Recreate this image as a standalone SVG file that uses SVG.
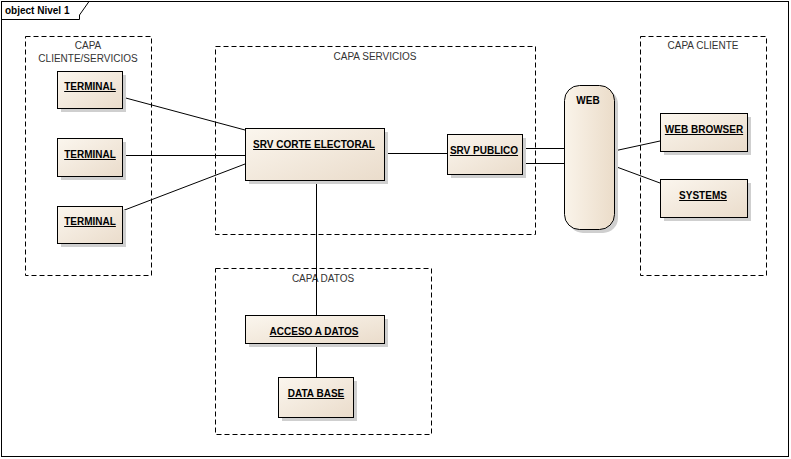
<svg xmlns="http://www.w3.org/2000/svg" width="791" height="459" viewBox="0 0 791 459">
  <defs>
    <linearGradient id="fill" x1="0" y1="0" x2="1" y2="1">
      <stop offset="0" stop-color="#fbf6ee"/>
      <stop offset="1" stop-color="#eadccb"/>
    </linearGradient>
    <linearGradient id="fillWeb" x1="0" y1="0" x2="1" y2="0">
      <stop offset="0" stop-color="#faf4ea"/>
      <stop offset="1" stop-color="#ebdcc9"/>
    </linearGradient>
  </defs>
  <style>
    .frame { fill: #ffffff; stroke: #000; stroke-width: 1; }
    .group { fill: none; stroke: #000; stroke-width: 1; stroke-dasharray: 5 3; }
    .shadow { fill: #cfcfcf; }
    .node { fill: url(#fill); stroke: #000; stroke-width: 1; }
    .web { fill: url(#fillWeb); stroke: #000; stroke-width: 1; }
    .label { font-family: "Liberation Sans", Arial, sans-serif; font-size: 10px; font-weight: bold; fill: #000; text-anchor: middle; text-decoration: underline; }
    .plain { font-family: "Liberation Sans", Arial, sans-serif; font-size: 10px; font-weight: bold; fill: #000; text-anchor: middle; }
    .title { font-family: "Liberation Sans", Arial, sans-serif; font-size: 10px; fill: #333; text-anchor: middle; }
    .conn { stroke: #000; stroke-width: 1; fill: none; }
  </style>

  <!-- diagram frame with name tab -->
  <g id="frame">
    <rect class="frame" x="1.5" y="1.5" width="787" height="455"/>
    <path class="conn" d="M1.5 19.5 H79.5 V15 L89 1.5"/>
    <text x="5" y="14" style="font-family:'Liberation Sans',Arial,sans-serif;font-size:10px;font-weight:bold;">object Nivel 1</text>
  </g>

  <!-- layers -->
  <g id="capa-cliente-servicios">
    <rect class="group" x="25.5" y="36.5" width="126" height="239"/>
    <text class="title" x="88" y="49">CAPA</text>
    <text class="title" x="88" y="62">CLIENTE/SERVICIOS</text>
  </g>
  <g id="capa-servicios">
    <rect class="group" x="215.5" y="46.5" width="320" height="188"/>
    <text class="title" x="375" y="60">CAPA SERVICIOS</text>
  </g>
  <g id="capa-cliente">
    <rect class="group" x="640.5" y="36.5" width="126" height="239"/>
    <text class="title" x="703" y="49">CAPA CLIENTE</text>
  </g>
  <g id="capa-datos">
    <rect class="group" x="215.5" y="268.5" width="216" height="166"/>
    <text class="title" x="323" y="282">CAPA DATOS</text>
  </g>

  <!-- connectors -->
  <g id="connectors">
    <line class="conn" x1="122" y1="97" x2="245" y2="130"/>
    <line class="conn" x1="122" y1="155.5" x2="245" y2="155.5"/>
    <line class="conn" x1="122" y1="211" x2="245" y2="164"/>
    <line class="conn" x1="384" y1="153.5" x2="447" y2="153.5"/>
    <line class="conn" x1="522" y1="148.5" x2="564" y2="148.5"/>
    <line class="conn" x1="522" y1="163.5" x2="564" y2="163.5"/>
    <line class="conn" x1="614" y1="151" x2="660" y2="141"/>
    <line class="conn" x1="614" y1="166" x2="660" y2="183"/>
    <line class="conn" x1="316.5" y1="180" x2="316.5" y2="315"/>
    <line class="conn" x1="316.5" y1="343" x2="316.5" y2="377"/>
  </g>

  <!-- nodes -->
  <g id="terminal-1">
    <rect class="shadow" x="61" y="75" width="65" height="37"/>
    <rect class="node" x="57.5" y="71.5" width="65" height="37"/>
    <text class="label" x="90" y="90">TERMINAL</text>
  </g>
  <g id="terminal-2">
    <rect class="shadow" x="61" y="142" width="65" height="38"/>
    <rect class="node" x="57.5" y="138.5" width="65" height="38"/>
    <text class="label" x="90" y="158">TERMINAL</text>
  </g>
  <g id="terminal-3">
    <rect class="shadow" x="61" y="210" width="65" height="37"/>
    <rect class="node" x="57.5" y="206.5" width="65" height="37"/>
    <text class="label" x="90" y="225">TERMINAL</text>
  </g>
  <g id="srv-corte-electoral">
    <rect class="shadow" x="249" y="132" width="139" height="52"/>
    <rect class="node" x="245.5" y="128.5" width="139" height="52"/>
    <text class="label" x="314" y="148">SRV CORTE ELECTORAL</text>
  </g>
  <g id="srv-publico">
    <rect class="shadow" x="451" y="138" width="75" height="40"/>
    <rect class="node" x="447.5" y="134.5" width="75" height="40"/>
    <text class="label" x="484" y="154">SRV PUBLICO</text>
  </g>
  <g id="web">
    <rect class="shadow" x="568" y="89" width="50" height="144" rx="15"/>
    <rect class="web" x="564.5" y="85.5" width="50" height="144" rx="15"/>
    <text class="plain" x="588" y="104">WEB</text>
  </g>
  <g id="web-browser">
    <rect class="shadow" x="664" y="117" width="87" height="38"/>
    <rect class="node" x="660.5" y="113.5" width="87" height="38"/>
    <text class="label" x="704" y="133">WEB BROWSER</text>
  </g>
  <g id="systems">
    <rect class="shadow" x="664" y="183" width="87" height="38"/>
    <rect class="node" x="660.5" y="179.5" width="87" height="38"/>
    <text class="label" x="703" y="199">SYSTEMS</text>
  </g>
  <g id="acceso-a-datos">
    <rect class="shadow" x="249" y="319" width="139" height="28"/>
    <rect class="node" x="245.5" y="315.5" width="139" height="28"/>
    <text class="label" x="314" y="335">ACCESO A DATOS</text>
  </g>
  <g id="data-base">
    <rect class="shadow" x="282" y="381" width="75" height="40"/>
    <rect class="node" x="278.5" y="377.5" width="75" height="40"/>
    <text class="label" x="316" y="397">DATA BASE</text>
  </g>
</svg>
